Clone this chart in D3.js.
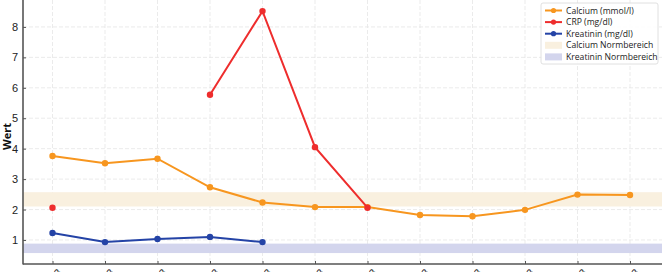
<!DOCTYPE html>
<html>
<head>
<meta charset="utf-8">
<script src="https://cdn.jsdelivr.net/npm/d3@7"></script>
<style>
  body { margin: 0; background: #fff; }
  svg { display: block; font-family: "Open Sans", "Liberation Sans", sans-serif; }
</style>
</head>
<body>
<div id="chart"></div>
<script>
/* DATA */
const dates = ["03.01.2023", "10.01.2023", "17.01.2023", "24.01.2023", "31.01.2023", "07.02.2023",
  "14.02.2023", "21.02.2023", "28.02.2023", "07.03.2023", "14.03.2023", "21.03.2023"];
const calcium = [3.76, 3.52, 3.67, 2.73, 2.23, 2.08, 2.08, 1.82, 1.78, 1.99, 2.49, 2.48];
const crp = [2.06, null, null, 5.77, 8.52, 4.05, 2.06, null, null, null, null, null];
const kreatinin = [1.23, 0.93, 1.03, 1.1, 0.93, null, null, null, null, null, null, null];
const calciumNorm = [2.1, 2.57];
const kreatininNorm = [0.57, 0.88];
const yTicks = [1, 2, 3, 4, 5, 6, 7, 8];

/* CONSTANTS */
const width = 662, height = 272;
const left = 23, axisY = 264;
const colors = { calcium: "#f7961f", crp: "#ee2d2d", kreatinin: "#2443a6" };
const bandColors = { calcium: "#f9f0df", kreatinin: "#d3d5ed" };

const svg = d3.select("#chart").append("svg")
  .attr("width", width)
  .attr("height", height);

const xScale = d3.scalePoint().domain(dates).range([52.5, 630]);
const yScale = d3.scaleLinear().domain([0, 9]).range([270.4, -3.5]);

// grid
svg.append("g").selectAll("line.gy")
  .data(yTicks).join("line")
  .attr("x1", left).attr("x2", width)
  .attr("y1", d => yScale(d)).attr("y2", d => yScale(d))
  .attr("stroke", "#e6e6e6").attr("stroke-width", 0.8).attr("stroke-dasharray", "4,2");
svg.append("g").selectAll("line.gx")
  .data(dates).join("line")
  .attr("x1", d => xScale(d)).attr("x2", d => xScale(d))
  .attr("y1", 0).attr("y2", axisY)
  .attr("stroke", "#e6e6e6").attr("stroke-width", 0.8).attr("stroke-dasharray", "4,2");

// normal ranges
svg.append("rect")
  .attr("x", left).attr("width", width - left)
  .attr("y", yScale(calciumNorm[1]))
  .attr("height", yScale(calciumNorm[0]) - yScale(calciumNorm[1]))
  .attr("fill", bandColors.calcium);
svg.append("rect")
  .attr("x", left).attr("width", width - left)
  .attr("y", yScale(kreatininNorm[1]))
  .attr("height", yScale(kreatininNorm[0]) - yScale(kreatininNorm[1]))
  .attr("fill", bandColors.kreatinin);

// series
const series = [
  { name: "calcium", values: calcium },
  { name: "crp", values: crp },
  { name: "kreatinin", values: kreatinin }
];
const line = d3.line()
  .defined(d => d.v !== null)
  .x(d => xScale(d.date))
  .y(d => yScale(d.v));

series.forEach(s => {
  const pts = s.values.map((v, i) => ({ date: dates[i], v: v }));
  svg.append("path")
    .datum(pts)
    .attr("d", line)
    .attr("fill", "none")
    .attr("stroke", colors[s.name])
    .attr("stroke-width", 2);
  svg.append("g").selectAll("circle")
    .data(pts.filter(d => d.v !== null)).join("circle")
    .attr("cx", d => xScale(d.date))
    .attr("cy", d => yScale(d.v))
    .attr("r", 3.2)
    .attr("fill", colors[s.name]);
});

// axes
const yAxis = svg.append("g")
  .attr("transform", `translate(${left},0)`)
  .call(d3.axisLeft(yScale).tickValues(yTicks).tickSize(-3).tickPadding(5));
yAxis.select(".domain").remove();
yAxis.selectAll("text").attr("font-size", 11).attr("fill", "#222");
yAxis.selectAll(".tick line").attr("stroke", "#555");
svg.append("line")
  .attr("x1", left).attr("x2", left).attr("y1", 0).attr("y2", axisY + 0.5)
  .attr("stroke", "#555").attr("stroke-width", 1.6);

// x labels are rotated and fall mostly below the window, as in the original
const xAxis = svg.append("g")
  .attr("transform", `translate(0,${axisY})`)
  .call(d3.axisBottom(xScale).tickSize(-3).tickPadding(0));
xAxis.select(".domain").remove();
xAxis.selectAll(".tick line").attr("stroke", "#555");
xAxis.selectAll("text")
  .attr("font-size", 10)
  .attr("fill", "#222")
  .style("text-anchor", "end")
  .attr("y", 0)
  .attr("dx", 0)
  .attr("dy", "0.7em")
  .attr("transform", "translate(4,4) rotate(-45)");
svg.append("line")
  .attr("x1", left).attr("x2", width).attr("y1", axisY).attr("y2", axisY)
  .attr("stroke", "#555").attr("stroke-width", 1.6);

// y label
svg.append("text")
  .attr("transform", `translate(11,${yScale(4.4)}) rotate(-90)`)
  .attr("text-anchor", "middle")
  .attr("font-size", 11)
  .attr("font-weight", "bold")
  .attr("fill", "#111")
  .text("Wert");

// legend
const legend = svg.append("g").attr("transform", "translate(541,3)");
legend.append("rect")
  .attr("width", 117).attr("height", 61)
  .attr("fill", "#fff").attr("fill-opacity", 0.9)
  .attr("stroke", "#d8d8d8").attr("stroke-width", 0.8).attr("rx", 2);
const legendItems = [
  { label: "Calcium (mmol/l)", type: "line", color: colors.calcium },
  { label: "CRP (mg/dl)", type: "line", color: colors.crp },
  { label: "Kreatinin (mg/dl)", type: "line", color: colors.kreatinin },
  { label: "Calcium Normbereich", type: "patch", color: bandColors.calcium },
  { label: "Kreatinin Normbereich", type: "patch", color: bandColors.kreatinin }
];
const rows = legend.selectAll("g.row").data(legendItems).join("g")
  .attr("transform", (d, i) => `translate(0,${7.5 + i * 11.6})`);
rows.filter(d => d.type === "line").append("line")
  .attr("x1", 4).attr("x2", 21).attr("y1", 0).attr("y2", 0)
  .attr("stroke", d => d.color).attr("stroke-width", 2);
rows.filter(d => d.type === "line").append("circle")
  .attr("cx", 12.5).attr("cy", 0).attr("r", 2.6).attr("fill", d => d.color);
rows.filter(d => d.type === "patch").append("rect")
  .attr("x", 4).attr("y", -3.5).attr("width", 17).attr("height", 7)
  .attr("fill", d => d.color);
rows.append("text")
  .attr("x", 25).attr("y", 0).attr("dy", "0.35em")
  .attr("font-size", 8.6).attr("fill", "#222")
  .text(d => d.label);
</script>
</body>
</html>
